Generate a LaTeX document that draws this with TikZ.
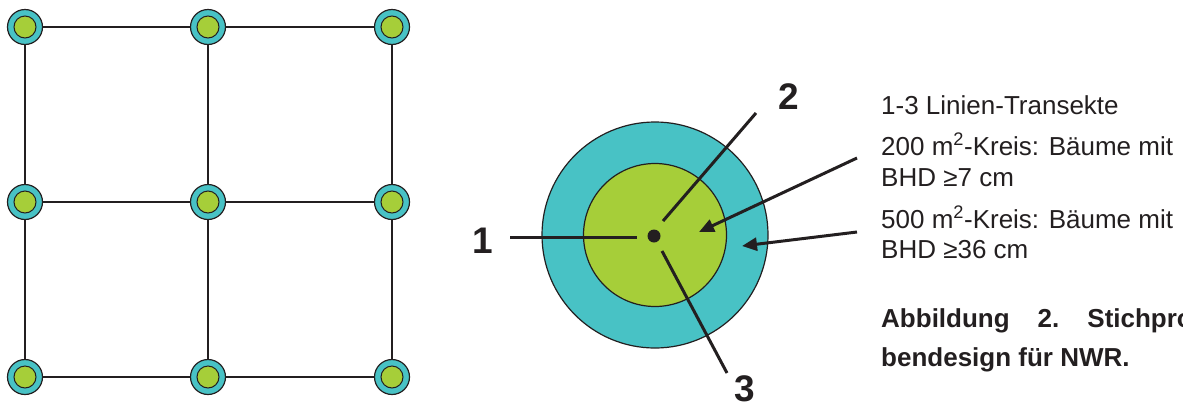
\documentclass[tikz,border=0pt]{standalone}
\usepackage{fontspec}
\setmainfont{Liberation Sans}
\usetikzlibrary{arrows.meta}
\definecolor{ringteal}{HTML}{48C2C5}
\definecolor{discgreen}{HTML}{A6CE39}
\definecolor{inkdark}{HTML}{231F20}
\tikzset{
  outerring/.style={circle,draw=inkdark,line width=1.2pt,fill=ringteal,minimum size=35pt,inner sep=0pt},
  innerdisc/.style={circle,draw=inkdark,line width=1pt,fill=discgreen,minimum size=22pt,inner sep=0pt},
  gridline/.style={draw=inkdark,line width=2.2pt},
  ray/.style={draw=inkdark,line width=3pt},
  pointer/.style={draw=inkdark,line width=3pt,-{Triangle[length=15pt,width=13pt]}},
  numlabel/.style={inner sep=0pt,font=\fontsize{37.0}{44.4}\selectfont\bfseries,text=inkdark},
  legendtext/.style={anchor=base west,inner sep=0pt,font=\fontsize{26.0}{31.2}\selectfont,text=inkdark},
  captiontext/.style={anchor=base west,inner sep=0pt,font=\fontsize{26.0}{31.2}\selectfont\bfseries,text=inkdark}
}
\begin{document}
\begin{tikzpicture}[x=1pt,y=-1pt]
\path[use as bounding box] (0,0) rectangle (1183.0,405.0);
% sampling grid
\foreach \r/\y in {1/27,2/202,3/377}{
  \foreach \c/\x in {1/25,2/208,3/392}{
    \node[outerring] (p\r\c) at (\x,\y) {};
    \node[innerdisc] (q\r\c) at (p\r\c) {};
  }
}
\foreach \r in {1,2,3}{
  \draw[gridline] (p\r1) -- (p\r2);
  \draw[gridline] (p\r2) -- (p\r3);
}
\foreach \c in {1,2,3}{
  \draw[gridline] (p1\c) -- (p2\c);
  \draw[gridline] (p2\c) -- (p3\c);
}
% plot design
\node[circle,draw=inkdark,line width=1.2pt,fill=ringteal,minimum size=226pt,inner sep=0pt] (kreis500) at (655,235) {};
\node[circle,draw=inkdark,line width=1.2pt,fill=discgreen,minimum size=143pt,inner sep=0pt] (kreis200) at (655,235) {};
\node[circle,fill=inkdark,minimum size=13pt,inner sep=0pt] (zentrum) at (654,236) {};
\node[numlabel] (lab1) at (483,241) {1};
\node[numlabel] (lab2) at (789,97) {2};
\node[numlabel] (lab3) at (745,389) {3};
\coordinate (t1a) at (510,237);
\coordinate (t1b) at (637,237);
\coordinate (t2a) at (756,113);
\coordinate (t2b) at (663,221);
\coordinate (t3a) at (662,251);
\coordinate (t3b) at (727,373);
\draw[ray] (t1a) -- (t1b);
\draw[ray] (t2a) -- (t2b);
\draw[ray] (t3a) -- (t3b);
% legend
\node[legendtext] (leg1) at (881,114) {1-3 Linien-Transekte};
\node[legendtext] (leg2) at (881,155) {200 m\textsuperscript{2}-Kreis: Bäume mit};
\node[legendtext] (leg3) at (881,186) {BHD ≥7 cm};
\node[legendtext] (leg4) at (881,228) {500 m\textsuperscript{2}-Kreis: Bäume mit};
\node[legendtext] (leg5) at (881,258) {BHD ≥36 cm};
\coordinate (a1) at (857,158);
\coordinate (a2) at (857,232);
\draw[pointer] (a1) -- (699,232);
\draw[pointer] (a2) -- (742,246);
% caption, cut at the right edge
\begin{scope}
\clip (0,0) rectangle (1183,405);
\node[captiontext] (cap1) at (881,327) {Abbildung\hskip 28pt 2.\hskip 28pt Stichpro-};
\node[captiontext] (cap2) at (881,366) {bendesign für NWR.};
\end{scope}
\end{tikzpicture}
\end{document}
